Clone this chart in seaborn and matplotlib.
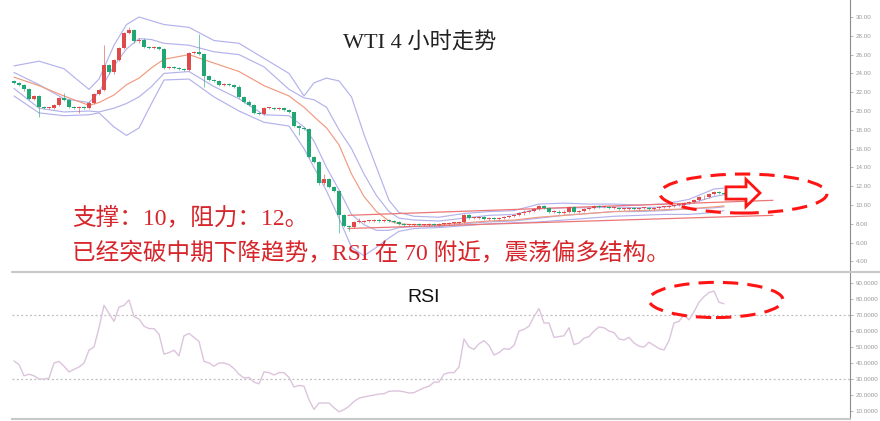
import numpy as np
import pandas as pd
import matplotlib
matplotlib.use("Agg")
import matplotlib.pyplot as plt
import seaborn as sns
from matplotlib.patches import Ellipse, FancyArrow
from matplotlib.lines import Line2D

# ---------------- data ----------------
closes = [
    23.0, 22.8, 22.3, 21.3, 21.6, 20.4, 20.3, 20.3, 20.6, 21.4,
    21.2, 20.4, 20.3, 20.4, 20.3, 20.9, 21.8, 22.2, 24.9, 24.1,
    25.4, 26.7, 28.3, 28.6, 27.4, 27.6, 26.8, 26.7, 26.8, 26.6,
    24.6, 24.7, 24.6, 24.5, 24.4, 26.2, 26.3, 26.1, 23.7, 23.3,
    23.2, 22.8, 22.9, 22.8, 22.6, 21.5, 21.0, 20.6, 19.8, 19.7,
    20.3, 20.3, 20.2, 20.3, 20.1, 19.9, 18.4, 18.2, 18.1, 15.1,
    14.6, 12.3, 12.8, 11.9, 11.5, 8.9, 7.8, 7.7, 8.2, 8.2,
    8.3, 8.3, 8.4, 8.3, 8.4, 8.3, 8.2, 8.0, 7.9, 7.9,
    8.0, 7.9, 7.9, 8.0, 7.9, 8.0, 8.0, 8.1, 8.1, 8.2,
    8.9, 8.6, 8.6, 8.7, 8.5, 8.6, 8.5, 8.6, 8.7, 8.8,
    8.9, 9.1, 9.3, 9.4, 9.6, 9.9, 9.7, 9.3, 9.3, 9.2,
    9.3, 9.8, 9.3, 9.4, 9.6, 9.7, 9.9, 9.8, 9.8, 9.7,
    9.7, 9.6, 9.6, 9.7, 9.6, 9.7, 9.7, 9.6, 9.7, 9.8,
    9.8, 9.9, 10.0, 10.0, 10.2, 10.3, 10.5, 10.8, 10.9, 11.2,
    11.4, 11.3, 11.2,
]
first_open = 23.2
wick_high = {10: 21.9, 18: 27.0, 23: 28.9, 37: 28.2, 56: 19.3, 62: 13.3, 69: 8.6}
wick_low = {5: 19.4, 13: 19.8, 38: 22.6, 57: 17.4, 65: 7.0, 67: 7.2}

rsi_values = [
    41.3, 39, 32, 33, 32, 30, 30, 30.5, 40, 41,
    38, 34.4, 36, 37.5, 40, 48, 50, 62, 76, 71,
    66, 75, 76, 79.4, 69, 67.5, 63, 61.5, 61.5, 58,
    45.5, 46.5, 48, 44.5, 57, 58.5, 56, 53.5, 41, 40,
    38, 40, 40, 39, 36.5, 33, 30.6, 31, 28, 27,
    34.4, 34, 32.5, 34, 34, 31, 25, 26, 25.5, 17,
    11, 15, 15, 15, 12, 9.5, 10.8, 13, 16, 18,
    18.8, 19.4, 20, 20.6, 20.8, 22.3, 22.5, 22.5, 22, 21.2,
    21.5, 23, 24.5, 25.5, 28, 28.1, 33, 34, 34, 37.5,
    55, 50, 48.5, 52, 54, 51, 45, 46.5, 49, 48.5,
    51, 60, 61, 63, 69, 74, 65, 65, 56, 56.5,
    57, 62, 51.5, 52.5, 55.5, 56.5, 60, 62.5, 62, 60,
    59, 55, 54.4, 56, 52.5, 50.5, 50, 53, 51, 49,
    48.2, 54, 65, 66, 70, 67, 72, 78, 81.5, 84,
    85, 78, 77,
]

band_idx = [0, 5, 10, 15, 17, 20, 22.5, 25, 27.5, 30, 35, 40, 45, 50, 55, 58, 60, 62.5,
            65, 67.5, 70, 72.5, 75, 77, 80, 85, 90, 95, 100, 105, 110, 115, 120, 125,
            130, 135, 140, 142]
band_upper_outer = [24.8, 25.3, 24.5, 22.3, 23.4, 27.0, 29.2, 30.0, 29.6, 29.2, 28.9, 27.5,
                    27.2, 25.6, 24.0, 21.6, 23.0, 23.5, 23.2, 21.5, 17.5, 14.0, 10.5, 9.2,
                    8.8, 8.7, 9.1, 9.3, 9.4, 10.1, 10.2, 10.1, 10.1, 10.0, 10.1, 10.6, 11.7, 11.8]
band_upper_inner = [24.1, 22.8, 21.3, 20.9, 22.0, 24.8, 26.6, 27.7, 27.6, 27.2, 27.0, 26.3,
                    26.0, 24.7, 22.3, 21.4, 21.2, 20.4, 18.0, 16.0, 13.3, 11.0, 9.3, 8.6,
                    8.4, 8.3, 8.6, 8.9, 9.0, 9.6, 9.7, 9.7, 9.8, 9.7, 9.8, 10.1, 10.9, 11.1]
moving_avg = [23.6, 22.7, 21.6, 20.6, 20.9, 21.7, 22.8, 23.5, 24.6, 25.5, 26.0, 25.1,
              24.2, 22.7, 21.6, 20.4, 19.4, 18.2, 16.4, 13.3, 10.9, 9.3, 8.3, 8.0,
              7.9, 7.9, 8.1, 8.3, 8.4, 8.7, 8.9, 9.1, 9.3, 9.4, 9.5, 9.6, 9.8, 9.9]
band_lower_inner = [22.4, 20.3, 19.9, 20.0, 19.9, 20.3, 20.8, 21.5, 22.6, 24.0, 24.2, 22.6,
                    21.3, 19.6, 19.5, 18.3, 16.8, 14.0, 11.6, 9.0, 7.9, 7.3, 7.3, 7.6,
                    7.7, 7.7, 8.0, 8.2, 8.3, 8.6, 8.9, 9.1, 9.3, 9.3, 9.4, 9.6, 9.7, 9.8]
band_lower_outer = [21.6, 19.8, 19.5, 19.6, 19.8, 18.3, 17.4, 18.2, 20.8, 23.3, 23.4, 21.5,
                    20.0, 18.8, 18.4, 16.0, 14.0, 11.5, 8.6, 5.5, 4.6, 5.5, 6.5, 7.2,
                    7.5, 7.6, 7.8, 8.0, 8.1, 8.2, 8.4, 8.6, 8.8, 8.9, 9.0, 9.0, 9.2, 9.4]

channel_idx = [66.8, 151.8]
channel_upper = [8.9, 10.5]
channel_lower = [7.5, 8.9]

price_ticks = list(range(4, 31, 2))
rsi_ticks = list(range(10, 91, 10))
rsi_levels = [70, 30]

title_text = "WTI 4 小时走势"
note_1 = "支撑：10，阻力：12。"
note_2 = "已经突破中期下降趋势，RSI 在 70 附近，震荡偏多结构。"

# annotation shapes (data units)
ell_price = dict(center=(145.9, 11.22), width=33.4, height=4.15)
arrow_price = dict(x=142.4, y=11.28, dx=6.8, width=1.3, head_width=2.9, head_length=2.8)
ell_rsi = dict(center=(140.4, 79.4), width=26.8, height=22.0)

# ---------------- styling ----------------
sns.set_theme(style="white")
plt.rcParams["font.family"] = ["Liberation Serif", "Noto Sans CJK SC", "DejaVu Sans"]

UP = "#dd4b4b"
DOWN = "#22a673"
BAND = "#b3b2ec"
MA = "#f09a80"
CH = "#ec7676"
RSI_C = "#dcc4dc"
RED = "#ff1414"
TXT_RED = "#d7262b"
TICK = "#9a9a9a"

W, H = 880, 421
fig = plt.figure(figsize=(W / 100, H / 100), dpi=100)
fig.patch.set_facecolor("white")


def fx(px):
    return px / W


def fy(py):
    return 1 - py / H


ax = fig.add_axes([fx(12), fy(272), fx(850) - fx(12), fy(0) - fy(272)])
ax2 = fig.add_axes([fx(12), fy(419), fx(850) - fx(12), fy(272) - fy(419)])

n = len(closes)
idx = np.arange(n)
opens = [first_open] + closes[:-1]
df = pd.DataFrame({"idx": idx, "open": opens, "close": closes})
df["up"] = df["close"] >= df["open"]
df["top"] = df[["open", "close"]].max(axis=1)
df["bot"] = df[["open", "close"]].min(axis=1)
df["high"] = [wick_high.get(i, t + 0.12) for i, t in zip(idx, df["top"])]
df["low"] = [wick_low.get(i, b - 0.12) for i, b in zip(idx, df["bot"])]
colors = [UP if u else DOWN for u in df["up"]]

bands = pd.DataFrame({
    "idx": band_idx,
    "uo": band_upper_outer, "ui": band_upper_inner, "ma": moving_avg,
    "li": band_lower_inner, "lo": band_lower_outer,
})
for col in ["uo", "ui", "li", "lo"]:
    sns.lineplot(data=bands, x="idx", y=col, ax=ax, color=BAND, lw=0.85, estimator=None, zorder=2)
sns.lineplot(data=bands, x="idx", y="ma", ax=ax, color=MA, lw=0.85, estimator=None, zorder=2)

sns.lineplot(x=channel_idx, y=channel_upper, ax=ax, color=CH, lw=0.9, zorder=2)
sns.lineplot(x=channel_idx, y=channel_lower, ax=ax, color=CH, lw=0.9, zorder=2)

ax.vlines(df["idx"], df["low"], df["high"], colors=colors, lw=0.6, alpha=0.7, zorder=3)
ax.bar(df["idx"], np.maximum(df["top"] - df["bot"], 0.08), bottom=df["bot"],
       width=0.62, color=colors, linewidth=0, zorder=4)

ax.add_patch(Ellipse(ell_price["center"], ell_price["width"], ell_price["height"],
                     fill=False, edgecolor=RED, lw=2.2, ls=(0, (5, 3)), zorder=6))
ax.add_patch(FancyArrow(arrow_price["x"], arrow_price["y"], arrow_price["dx"], 0,
                        width=arrow_price["width"], head_width=arrow_price["head_width"],
                        head_length=arrow_price["head_length"], length_includes_head=True,
                        facecolor="white", edgecolor=RED, lw=2.0, zorder=6))

ax.set_xlim(-0.4, 167.2)
ax.set_ylim(2.872, 31.81)

# RSI panel
sns.lineplot(x=idx, y=rsi_values, ax=ax2, color=RSI_C, lw=1.0, estimator=None, zorder=3)
for lv in rsi_levels:
    ax2.axhline(lv, color="#bdbdbd", ls=(0, (1.5, 2.0)), lw=0.9, zorder=1)
ax2.add_patch(Ellipse(ell_rsi["center"], ell_rsi["width"], ell_rsi["height"],
                      fill=False, edgecolor=RED, lw=2.2, ls=(0, (5, 3)), zorder=6))
ax2.set_xlim(-0.4, 167.2)
ax2.set_ylim(5.0, 96.875)

for a, ticks, fmt in [(ax, price_ticks, "{:.2f}"), (ax2, rsi_ticks, "{:.4f}")]:
    a.set_xlabel("")
    a.set_ylabel("")
    a.set_xticks([])
    a.yaxis.tick_right()
    a.set_yticks(ticks)
    a.set_yticklabels([fmt.format(t) for t in ticks], family=["Liberation Sans"])
    a.tick_params(axis="y", right=True, left=False, length=2, width=0.5, color=TICK,
                  labelsize=4.5, labelcolor=TICK, pad=2)
    a.set_facecolor("white")
    for s in ["top", "left"]:
        a.spines[s].set_visible(False)
    a.spines["right"].set_color("#8c8c8c")
    a.spines["right"].set_linewidth(0.8)
ax.spines["bottom"].set_visible(False)
ax2.spines["bottom"].set_color("#c8c8c8")
ax2.spines["bottom"].set_linewidth(1.5)

fig.add_artist(Line2D([fx(12), 1.0], [fy(271.5), fy(271.5)], color="#c8c8c8", lw=1.5))

# texts
fig.text(fx(420), fy(43), title_text, fontsize=16, ha="center", va="center", color="#222222")
fig.text(fx(72), fy(218), note_1, fontsize=17, ha="left", va="center", color=TXT_RED, zorder=7)
fig.text(fx(72), fy(253), note_2, fontsize=17, ha="left", va="center", color=TXT_RED, zorder=7)
fig.text(fx(424), fy(297), "RSI", fontsize=14, ha="center", va="center", color="#111111",
         family=["Liberation Sans"])

fig.savefig("out.png", dpi=100, facecolor="white")
